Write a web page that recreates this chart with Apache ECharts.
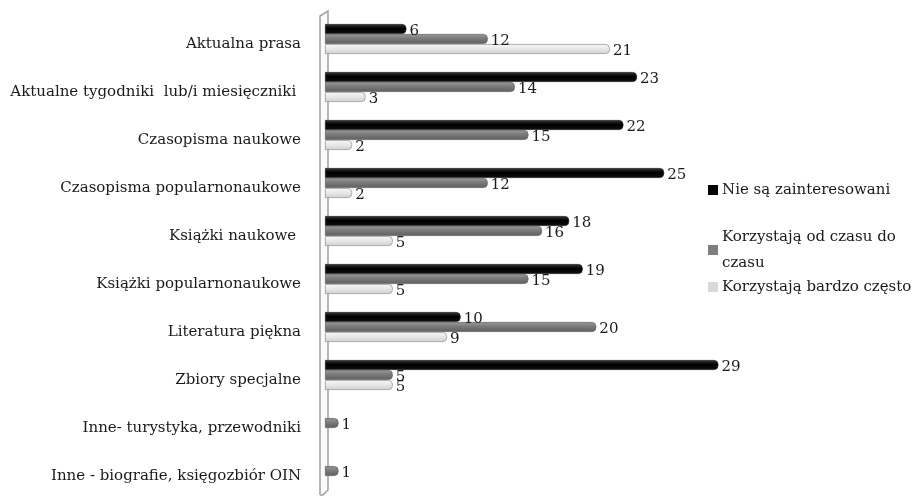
<!DOCTYPE html>
<html>
<head>
<meta charset="utf-8">
<script src="https://cdn.jsdelivr.net/npm/echarts@6/dist/echarts.min.js"></script>
<style>html,body{margin:0;padding:0;background:#fff}#c{width:919px;height:497px}</style>
</head>
<body>
<div id="c"></div>
<script>
var categories = [
  'Aktualna prasa',
  'Aktualne tygodniki  lub/i miesięczniki ',
  'Czasopisma naukowe',
  'Czasopisma popularnonaukowe',
  'Książki naukowe ',
  'Książki popularnonaukowe',
  'Literatura piękna',
  'Zbiory specjalne',
  'Inne- turystyka, przewodniki',
  'Inne - biografie, księgozbiór OIN'
];
var seriesNames = ['Nie są zainteresowani', 'Korzystają od czasu do czasu', 'Korzystają bardzo często'];
var notInterested = [6, 23, 22, 25, 18, 19, 10, 29, null, null];
var sometimes = [12, 14, 15, 12, 16, 15, 20, 5, 1, 1];
var veryOften = [21, 3, 2, 2, 5, 5, 9, 5, null, null];

var FONT = 'DejaVu Serif';
var FS = 15;
function grad(a, b, c) {
  return new echarts.graphic.LinearGradient(0, 0, 0, 1, [
    {offset: 0, color: a}, {offset: 0.45, color: b}, {offset: 1, color: c}
  ]);
}
var styles = [
  {color: grad('#3a3a3a', '#000000', '#111111'), borderColor: '#222', legend: '#000000'},
  {color: grad('#9a9a9a', '#7a7a7a', '#5e5e5e'), borderColor: '#666', legend: '#7f7f7f'},
  {color: grad('#f8f8f8', '#e8e8e8', '#d0d0d0'), borderColor: '#999', legend: '#d9d9d9'}
];
var datasets = [notInterested, sometimes, veryOften];

var chart = echarts.init(document.getElementById('c'));
var series = datasets.map(function (d, i) {
  return {
    name: seriesNames[i],
    type: 'bar',
    data: d,
    barWidth: 10,
    barGap: '0%',
    itemStyle: {color: styles[i].color, borderColor: styles[i].borderColor, borderWidth: 0.8, borderRadius: [0, 4, 4, 0]},
    label: {show: true, position: 'right', distance: 3, offset: [0, 2], color: '#1a1a1a', fontFamily: FONT, fontSize: FS}
  };
});
var legendTops = [172, 219, 269];
var legendTexts = ['Nie są zainteresowani', 'Korzystają od czasu do\nczasu', 'Korzystają bardzo często'];
var legends = seriesNames.map(function (n, i) {
  return {
    left: 703, top: legendTops[i], orient: 'vertical',
    itemWidth: 10, itemHeight: 10, itemGap: 0,
    selectedMode: false,
    data: [{name: n, itemStyle: {color: styles[i].legend, borderWidth: 0}, icon: 'rect'}],
    formatter: function () { return legendTexts[i]; },
    textStyle: {fontFamily: FONT, fontSize: FS, color: '#1a1a1a', lineHeight: 26, padding: [0, 0, 0, -1]}
  };
});

chart.setOption({
  animation: false,
  grid: {left: 325, top: 15, width: 407, height: 480, containLabel: false},
  xAxis: {type: 'value', min: 0, max: 30, show: false},
  yAxis: {
    type: 'category', data: categories, inverse: true,
    axisLine: {show: false}, axisTick: {show: false},
    axisLabel: {margin: 24, color: '#1a1a1a', fontFamily: FONT, fontSize: FS, verticalAlign: 'top', lineHeight: 10}
  },
  legend: legends,
  graphic: [{
    type: 'polyline', silent: true, z: -1,
    shape: {points: [[320, 495], [320, 16], [328, 11], [328, 490], [323, 495], [320, 495]]},
    style: {stroke: '#a0a0a0', lineWidth: 1.5, fill: '#fafafa'}
  }],
  series: series
});
</script>
</body>
</html>
